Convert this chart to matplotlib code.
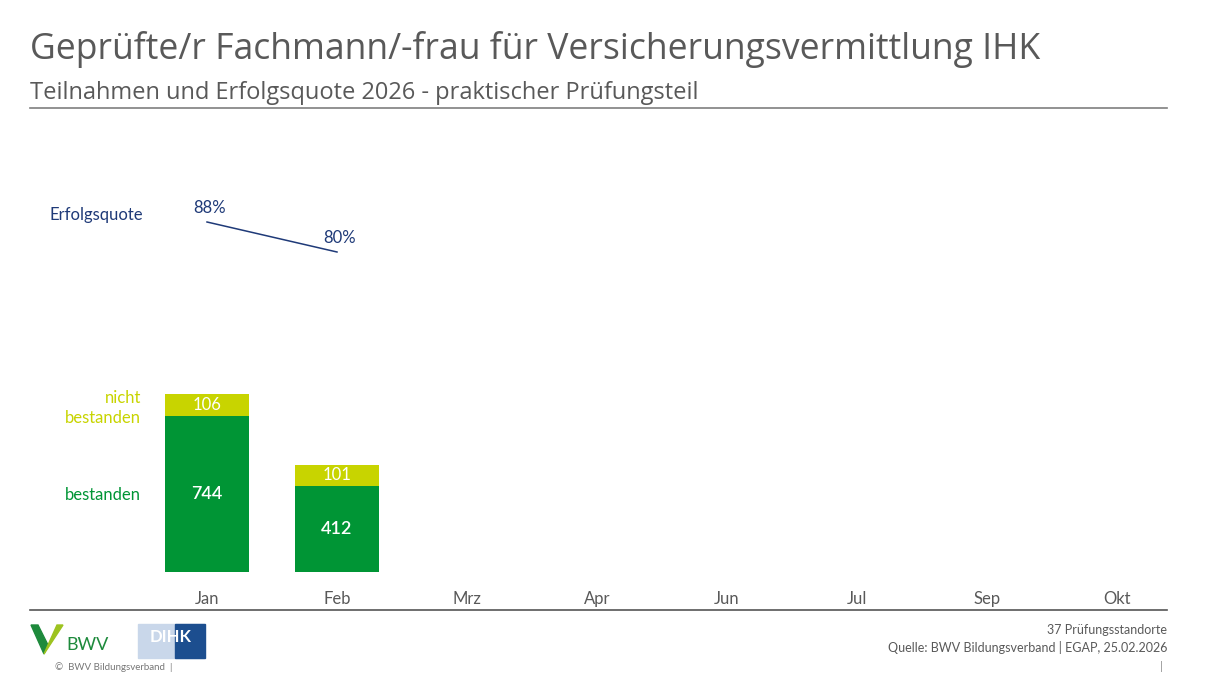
import matplotlib
matplotlib.use('Agg')
import matplotlib.pyplot as plt
from matplotlib.patches import Rectangle, Polygon
from matplotlib.lines import Line2D

W, H = 1230, 691

# data
months = ['Jan', 'Feb', 'Mrz', 'Apr', 'Jun', 'Jul', 'Sep', 'Okt']
bestanden = [744, 412]
nicht_bestanden = [106, 101]
quote = [88, 80]

GREEN = '#009535'
YELLOW = '#C8D400'
NAVY = '#1F3A78'
GREY = '#595959'

plt.rcParams['font.family'] = ['Lato', 'DejaVu Sans']

fig = plt.figure(figsize=(W / 100, H / 100), dpi=100)


def fx(px):
    return px / W


def fy(py):
    return 1 - py / H


# header
fig.text(fx(30), fy(50), 'Geprüfte/r Fachmann/-frau für Versicherungsvermittlung IHK',
         fontsize=25.6, color=GREY, va='center', ha='left', family='Open Sans')
fig.text(fx(30), fy(93), 'Teilnahmen und Erfolgsquote 2026 - praktischer Prüfungsteil',
         fontsize=17, color=GREY, va='center', ha='left', family='Open Sans')
fig.add_artist(Line2D([fx(30), fx(1167)], [fy(108), fy(108)], color='#7f7f7f', lw=1.2))
fig.add_artist(Line2D([fx(30), fx(1167)], [fy(610), fy(610)], color='#555555', lw=1.2))

# bar axes
left = 207 - 65
ax = fig.add_axes([fx(left), fy(572), fx(1040), (572 - 362.6) / H])
x = list(range(len(bestanden)))
ax.bar(x, bestanden, width=0.646, color=GREEN)
ax.bar(x, nicht_bestanden, bottom=bestanden, width=0.646, color=YELLOW)
for i in x:
    ax.text(i, bestanden[i] / 2, str(bestanden[i]), color='white', ha='center', va='center',
            fontsize=13, fontweight='semibold')
    ax.text(i, bestanden[i] + nicht_bestanden[i] / 2, str(nicht_bestanden[i]), color='white',
            ha='center', va='center', fontsize=12)
ax.set_xlim(-0.5, len(months) - 0.5)
ax.set_ylim(0, 1000)
ax.set_xticks(range(len(months)))
ax.set_xticklabels(months, fontsize=12, color=GREY)
ax.tick_params(axis='x', length=0, pad=14)
ax.set_yticks([])
for s in ax.spines.values():
    s.set_visible(False)

# line axes
ax2 = fig.add_axes([fx(left), fy(552), fx(1040), 375 / H])
ax2.plot(x, quote, color=NAVY, lw=1.1)
ax2.set_xlim(-0.5, len(months) - 0.5)
ax2.set_ylim(0, 100)
ax2.axis('off')
for i in x:
    ax2.annotate(f'{quote[i]}%', (i, quote[i]), xytext=(2, 10), textcoords='offset points',
                 ha='center', va='center', fontsize=12, color=NAVY)

# series labels
fig.text(fx(143), fy(215), 'Erfolgsquote', color=NAVY, fontsize=12, ha='right', va='center')
fig.text(fx(141), fy(408), 'nicht\nbestanden', color=YELLOW, fontsize=12, ha='right', va='center',
         linespacing=1.35)
fig.text(fx(141), fy(495), 'bestanden', color=GREEN, fontsize=12, ha='right', va='center')

# footer logos
fig.add_artist(Polygon([(fx(31), fy(625)), (fx(38), fy(625)), (fx(48), fy(645)), (fx(44), fy(654))],
                       closed=True, color='#1E8A3C'))
fig.add_artist(Polygon([(fx(44), fy(654)), (fx(48), fy(645)), (fx(57), fy(625)), (fx(63), fy(625))],
                       closed=True, color='#9DC31F'))
fig.text(fx(66), fy(645), 'BWV', color='#1E8A3C', fontsize=13, ha='left', va='center')
fig.add_artist(Rectangle((fx(138), fy(658)), fx(66), 34 / H, color='#C9D7EA'))
fig.add_artist(Rectangle((fx(175), fy(658)), fx(30), 34 / H, color='#1C4E8F'))
fig.text(fx(171), fy(637), 'DIHK', color='white', fontsize=12, fontweight='bold',
         ha='center', va='center')
fig.text(fx(55), fy(667), '©  BWV Bildungsverband  |', color='#777777', fontsize=7,
         ha='left', va='center')

fig.text(fx(1167), fy(630), '37 Prüfungsstandorte', color=GREY, fontsize=9, ha='right',
         va='center')
fig.text(fx(1167), fy(647), 'Quelle: BWV Bildungsverband | EGAP, 25.02.2026', color=GREY,
         fontsize=9, ha='right', va='center')
fig.text(fx(1163), fy(667), '|', color='#888888', fontsize=8, ha='right', va='center')

fig.savefig('out.png', dpi=100)
